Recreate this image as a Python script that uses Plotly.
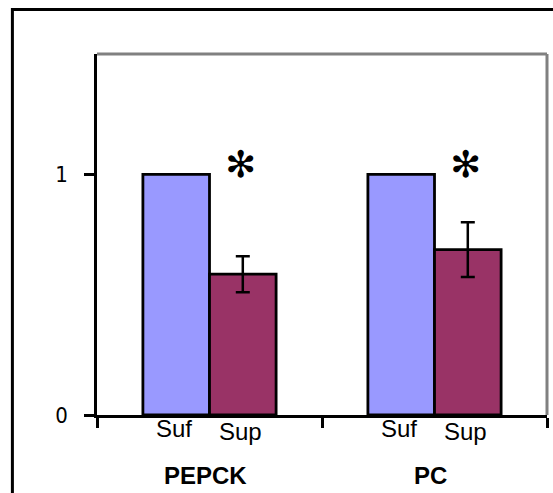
import plotly.graph_objects as go

# Relative expression of gluconeogenic enzymes
genes = ["PEPCK", "PC"]
conditions = ["Suf", "Sup"]
suf_values = [1.0, 1.0]
sup_values = [0.585, 0.687]
sup_errors = [0.075, 0.114]
significant = [True, True]
y_ticks = [0, 1]

suf_color = "#9999FF"
sup_color = "#993366"
x_pos = list(range(len(genes)))
half = 0.148  # offset of each bar centre from its group centre

fig = go.Figure()
fig.add_trace(go.Bar(
    x=x_pos, y=suf_values, name=conditions[0],
    marker=dict(color=suf_color, line=dict(color="black", width=2.8)),
))
fig.add_trace(go.Bar(
    x=x_pos, y=sup_values, name=conditions[1],
    marker=dict(color=sup_color, line=dict(color="black", width=2.8)),
    error_y=dict(type="data", array=sup_errors, visible=True,
                 color="black", thickness=2.5, width=7),
))

annotations = []
for i, g in enumerate(genes):
    annotations.append(dict(x=i - half - 0.012, y=-0.037, xref="x", yref="paper",
                            xanchor="center", yanchor="middle",
                            text=conditions[0], showarrow=False,
                            font=dict(size=24, color="black")))
    annotations.append(dict(x=i + half - 0.012, y=-0.045, xref="x", yref="paper",
                            xanchor="center", yanchor="middle",
                            text=conditions[1], showarrow=False,
                            font=dict(size=24, color="black")))
    annotations.append(dict(x=i - 0.02, y=-0.168, xref="x", yref="paper",
                            xanchor="center", yanchor="middle",
                            text="<b>" + g + "</b>", showarrow=False,
                            font=dict(size=24, color="black")))
    if significant[i]:
        annotations.append(dict(x=i + half - 0.01, y=1.04, xref="x", yref="y",
                                xanchor="center", yanchor="middle",
                                text="✻", showarrow=False,
                                font=dict(size=37, color="black",
                                          family="DejaVu Sans")))

shapes = [
    # outer frame (left and top edges)
    dict(type="rect", xref="paper", yref="paper",
         x0=-0.188, x1=1.05, y0=-0.25, y1=1.123,
         line=dict(color="black", width=3), layer="below"),
    # grey top and right edges of the plotting area
    dict(type="line", xref="paper", yref="paper", x0=0, x1=1, y0=1, y1=1,
         line=dict(color="#808080", width=3)),
    dict(type="line", xref="paper", yref="paper", x0=1, x1=1, y0=0, y1=1,
         line=dict(color="#808080", width=3)),
]

fig.update_layout(
    width=553, height=493, autosize=False,
    margin=dict(l=97, r=6, t=54, b=78),
    paper_bgcolor="white", plot_bgcolor="white",
    showlegend=False,
    barmode="group", bargap=0.408, bargroupgap=0,
    font=dict(family="Liberation Sans, Arial, sans-serif", color="black"),
    annotations=annotations, shapes=shapes,
    xaxis=dict(range=[-0.5, len(genes) - 0.5],
               tickvals=[-0.5 + k for k in range(len(genes) + 1)],
               showticklabels=False, ticks="outside", ticklen=10,
               tickwidth=2.5, tickcolor="black",
               showline=True, linecolor="black", linewidth=2.5,
               showgrid=False, zeroline=False),
    yaxis=dict(range=[0, 1.5], tickvals=y_ticks,
               ticks="outside", ticklen=10, tickwidth=2.5, tickcolor="black",
               ticklabelstandoff=12,
               tickfont=dict(size=22, family="DejaVu Sans Condensed, Liberation Sans"),
               showline=True, linecolor="black", linewidth=2.5,
               showgrid=False, zeroline=False),
)

fig.write_html("out.html")
